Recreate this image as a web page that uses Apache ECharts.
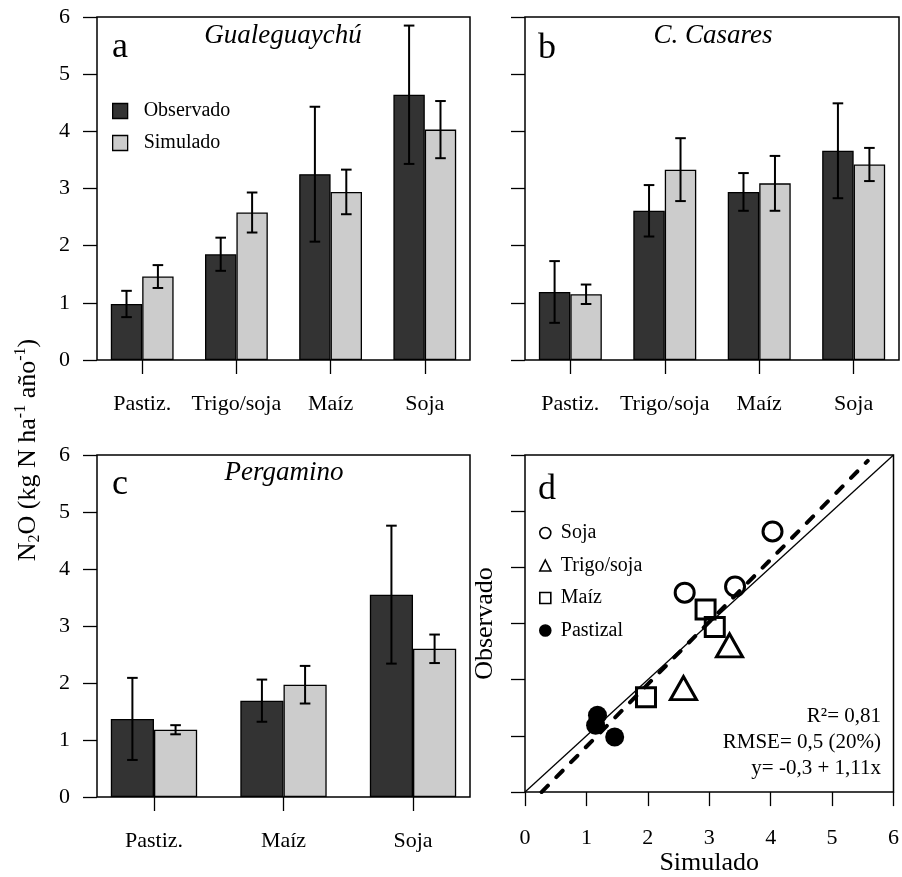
<!DOCTYPE html>
<html>
<head>
<meta charset="utf-8">
<script src="https://cdn.jsdelivr.net/npm/echarts@6/dist/echarts.min.js"></script>
<style>
  html, body { margin: 0; padding: 0; background: #fff; }
  #chart { width: 902px; height: 877px; }
</style>
</head>
<body>
<div id="chart"></div>
<script>
// ---- data -------------------------------------------------------------
const cropsFull = ['Pastiz.', 'Trigo/soja', 'Maíz', 'Soja'];
const cropsPergamino = ['Pastiz.', 'Maíz', 'Soja'];

// Gualeguaychú
const gualObs = [0.98, 1.85, 3.25, 4.64];
const gualObsErr = [0.23, 0.29, 1.18, 1.21];
const gualSim = [1.46, 2.58, 2.94, 4.03];
const gualSimErr = [0.20, 0.35, 0.39, 0.50];

// C. Casares
const casObs = [1.19, 2.61, 2.94, 3.66];
const casObsErr = [0.54, 0.45, 0.33, 0.83];
const casSim = [1.15, 3.33, 3.09, 3.42];
const casSimErr = [0.17, 0.55, 0.48, 0.29];

// Pergamino
const pergObs = [1.37, 1.69, 3.55];
const pergObsErr = [0.72, 0.37, 1.21];
const pergSim = [1.18, 1.97, 2.60];
const pergSimErr = [0.08, 0.33, 0.25];

const siteNames = ['Gualeguaychú', 'C. Casares', 'Pergamino'];
const panelLetters = ['a', 'b', 'c', 'd'];

// scatter legend names and the crop each one takes from the bar data
const scatterNames = ['Soja', 'Trigo/soja', 'Maíz', 'Pastizal'];
const scatterCrops = ['Soja', 'Trigo/soja', 'Maíz', 'Pastiz.'];

// fitted regression (observed vs simulated)
const fitIntercept = -0.3;
const fitSlope = 1.11;
const fitXRange = [0.27, 5.58];
const statsLines = ['R²= 0,81', 'RMSE= 0,5 (20%)', 'y= -0,3 + 1,11x'];

// ---- layout ---------------------------------------------------------------
const FAMILY = '"Liberation Serif", "Times New Roman", Times, serif';
const DARK = '#333333';
const LIGHT = '#cccccc';

const grids = [
  { left: 97,  top: 17,  width: 373, height: 343 },
  { left: 525, top: 17,  width: 374, height: 343 },
  { left: 97,  top: 455, width: 373, height: 342 },
  { left: 525, top: 455, width: 374, height: 342 }
];

const sites = [
  { crops: cropsFull, obs: gualObs, obsErr: gualObsErr, sim: gualSim, simErr: gualSimErr },
  { crops: cropsFull, obs: casObs, obsErr: casObsErr, sim: casSim, simErr: casSimErr },
  { crops: cropsPergamino, obs: pergObs, obsErr: pergObsErr, sim: pergSim, simErr: pergSimErr }
];

// grouped bar positions: two bars of width 1 per group, one empty unit between groups
function groupCenter(i) { return 2 + 3 * i; }
function barExtent(n) {
  const lo = 1, hi = 3 * n, pad = 0.04 * (hi - lo);
  return [lo - pad, hi + pad];
}

const tickStyle = { color: '#000', width: 1.3 };
const labelBase = { fontFamily: FAMILY, fontSize: 22, color: '#000' };

const xAxes = [], yAxes = [], series = [];

sites.forEach((s, p) => {
  const n = s.crops.length;
  const [mn, mx] = barExtent(n);
  const centers = s.crops.map((_, i) => groupCenter(i));
  const bw = grids[p].width / (mx - mn);

  xAxes.push({
    gridIndex: p, type: 'value', min: mn, max: mx,
    splitLine: { show: false },
    axisLine: { show: false },
    axisTick: { show: true, length: 14, lineStyle: tickStyle, customValues: centers },
    axisLabel: {
      ...labelBase, margin: 33, customValues: centers,
      formatter: v => s.crops[Math.round((v - 2) / 3)]
    }
  });
  yAxes.push({
    gridIndex: p, type: 'value', min: 0, max: 6, interval: 1,
    splitLine: { show: false },
    axisLine: { show: false },
    axisTick: { show: true, length: 14, lineStyle: tickStyle },
    axisLabel: { ...labelBase, show: p !== 1, margin: 27 }
  });

  const obsData = s.obs.map((v, i) => [centers[i] - 0.5, v]);
  const simData = s.sim.map((v, i) => [centers[i] + 0.5, v]);
  series.push({
    name: 'Observado', type: 'bar', xAxisIndex: p, yAxisIndex: p,
    data: obsData, barWidth: bw, barGap: '-100%',
    itemStyle: { color: DARK, borderColor: '#000', borderWidth: 1.3 },
    silent: true
  });
  series.push({
    name: 'Simulado', type: 'bar', xAxisIndex: p, yAxisIndex: p,
    data: simData, barWidth: bw, barGap: '-100%',
    itemStyle: { color: LIGHT, borderColor: '#000', borderWidth: 1.3 },
    silent: true
  });

  const errData = [];
  s.obs.forEach((v, i) => errData.push([centers[i] - 0.5, v - s.obsErr[i], v + s.obsErr[i]]));
  s.sim.forEach((v, i) => errData.push([centers[i] + 0.5, v - s.simErr[i], v + s.simErr[i]]));
  series.push({
    name: 'err' + p, type: 'custom', xAxisIndex: p, yAxisIndex: p, z: 5, silent: true,
    data: errData, encode: { x: 0, y: [1, 2] },
    renderItem: (params, api) => {
      const x = api.value(0);
      const a = api.coord([x, api.value(1)]);
      const b = api.coord([x, api.value(2)]);
      const h = 5.3;
      const st = { stroke: '#000', lineWidth: 2 };
      return {
        type: 'group', children: [
          { type: 'line', shape: { x1: a[0], y1: a[1], x2: b[0], y2: b[1] }, style: st },
          { type: 'line', shape: { x1: a[0] - h, y1: a[1], x2: a[0] + h, y2: a[1] }, style: st },
          { type: 'line', shape: { x1: b[0] - h, y1: b[1], x2: b[0] + h, y2: b[1] }, style: st }
        ]
      };
    }
  });
});

// ---- panel d: observed vs simulated ------------------------------------------
xAxes.push({
  gridIndex: 3, type: 'value', min: 0, max: 6, interval: 1,
  splitLine: { show: false }, axisLine: { show: false },
  axisTick: { show: true, length: 14, lineStyle: tickStyle },
  axisLabel: { ...labelBase, margin: 35 },
  name: 'Simulado', nameLocation: 'middle', nameGap: 50,
  nameTextStyle: { fontFamily: FAMILY, fontSize: 26, color: '#000' }
});
yAxes.push({
  gridIndex: 3, type: 'value', min: 0, max: 6, interval: 1,
  splitLine: { show: false }, axisLine: { show: false },
  axisTick: { show: true, length: 14, lineStyle: tickStyle },
  axisLabel: { show: false },
  name: 'Observado', nameLocation: 'middle', nameGap: 27, nameRotate: 90,
  nameTextStyle: { fontFamily: FAMILY, fontSize: 26, color: '#000' }
});

function pointsFor(crop) {
  const pts = [];
  sites.forEach(s => {
    const i = s.crops.indexOf(crop);
    if (i >= 0) pts.push([s.sim[i], s.obs[i]]);
  });
  return pts;
}

const openMarker = { color: 'transparent', borderColor: '#000', borderWidth: 3, opacity: 1 };
const markerStyles = [
  { symbol: 'circle', symbolSize: 19, itemStyle: openMarker },
  { symbol: 'triangle', symbolSize: [26, 23], itemStyle: openMarker },
  { symbol: 'rect', symbolSize: 19, itemStyle: openMarker },
  { symbol: 'circle', symbolSize: 19, itemStyle: { color: '#000', borderColor: '#000', borderWidth: 0, opacity: 1 } }
];

scatterNames.forEach((nm, k) => {
  series.push({
    name: nm, type: 'scatter', xAxisIndex: 3, yAxisIndex: 3, silent: true,
    data: pointsFor(scatterCrops[k]), ...markerStyles[k]
  });
});

series.push({
  name: '1:1', type: 'line', xAxisIndex: 3, yAxisIndex: 3, silent: true,
  data: [[0, 0], [6, 6]], symbol: 'none', z: 4,
  lineStyle: { color: '#000', width: 1.3 }
});
series.push({
  name: 'ajuste', type: 'line', xAxisIndex: 3, yAxisIndex: 3, silent: true,
  data: fitXRange.map(x => [x, fitIntercept + fitSlope * x]), symbol: 'none', z: 4,
  lineStyle: { color: '#000', width: 4, type: [9, 12], cap: 'round' }
});

// ---- text ---------------------------------------------------------------
function txt(x, y, text, font, align, extra) {
  return Object.assign({
    type: 'text', x: x, y: y,
    style: {
      text: text, font: font, fill: '#000',
      align: align, verticalAlign: 'middle', textAlign: align, textVerticalAlign: 'middle'
    }
  }, extra || {});
}

const graphics = [];
const letterPos = [[112, 48], [538, 49], [112, 485], [538, 490]];
panelLetters.forEach((l, i) => {
  graphics.push(txt(letterPos[i][0], letterPos[i][1], l, '36px ' + FAMILY, 'left'));
});
const titlePos = [[283, 36], [713, 36], [284, 473]];
siteNames.forEach((t, i) => {
  graphics.push(txt(titlePos[i][0], titlePos[i][1], t, 'italic 27px ' + FAMILY, 'center'));
});
statsLines.forEach((t, i) => {
  graphics.push(txt(881, 716 + i * 26, t, '21px ' + FAMILY, 'right'));
});
graphics.push({
  type: 'text', x: 28, y: 450, rotation: Math.PI / 2,
  style: {
    text: '{m|N}{sub|2}{m|O (kg N ha}{sup|-1}{m| año}{sup|-1}{m|)}',
    align: 'center', verticalAlign: 'middle', textAlign: 'center', textVerticalAlign: 'middle',
    fill: '#000', font: '26px ' + FAMILY,
    rich: {
      m: { font: '26px ' + FAMILY, fontFamily: FAMILY, fontSize: 26, lineHeight: 30, fill: '#000' },
      sub: { font: '16px ' + FAMILY, fontFamily: FAMILY, fontSize: 16, lineHeight: 16, verticalAlign: 'bottom', fill: '#000' },
      sup: { font: '16px ' + FAMILY, fontFamily: FAMILY, fontSize: 16, lineHeight: 16, verticalAlign: 'top', fill: '#000' }
    }
  }
});

const chart = echarts.init(document.getElementById('chart'), null, { renderer: 'canvas' });
chart.setOption({
  animation: false,
  backgroundColor: '#fff',
  textStyle: { fontFamily: FAMILY },
  grid: grids.map(g => ({ ...g, show: true, borderColor: '#000', borderWidth: 1.5, backgroundColor: 'transparent', containLabel: false })),
  xAxis: xAxes,
  yAxis: yAxes,
  legend: [
    {
      data: ['Observado', 'Simulado'], left: 112, top: 101, orient: 'vertical', padding: 0,
      itemWidth: 15, itemHeight: 15, itemGap: 12, icon: 'rect', selectedMode: false,
      itemStyle: { borderColor: '#000', borderWidth: 1.3 },
      textStyle: { fontFamily: FAMILY, fontSize: 20, color: '#000', padding: [0, 0, 0, 11] }
    },
    {
      data: scatterNames, left: 539, top: 523, orient: 'vertical', padding: 0,
      itemWidth: 11, itemHeight: 11, itemGap: 12.5, selectedMode: false,
      itemStyle: { borderWidth: 1.6 },
      textStyle: { fontFamily: FAMILY, fontSize: 20, color: '#000', padding: [0, 0, 0, 5] }
    }
  ],
  series: series,
  graphic: graphics
});
</script>
</body>
</html>
